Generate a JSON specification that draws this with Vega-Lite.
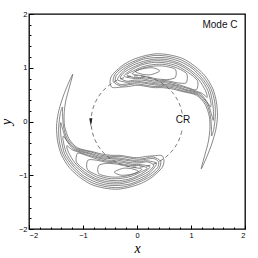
{
"$schema": "https://vega.github.io/schema/vega-lite/v6.json",
"width": 216, "height": 215,
"autosize": {"type": "none"},
"padding": {"left": 29, "top": 14, "right": 13, "bottom": 29},
"background": "white",
"config": {
 "view": {"stroke": "black", "strokeWidth": 1.3},
 "axis": {"domain": false, "grid": false, "labelFont": "Liberation Sans", "labelFontSize": 7.5, "labelColor": "black", "labelPadding": 6, "tickColor": "black", "tickWidth": 1, "titleFont": "Liberation Serif", "titleFontStyle": "italic", "titleFontWeight": "normal", "titleFontSize": 14, "titleColor": "black"}
},
"datasets": {
"contours": [
{"c":"A0","o":1,"x":-0.41,"y":0.92},{"c":"A0","o":2,"x":-0.26,"y":1.05},{"c":"A0","o":3,"x":-0.08,"y":1.15},{"c":"A0","o":4,"x":0.13,"y":1.22},{"c":"A0","o":5,"x":0.36,"y":1.26},{"c":"A0","o":6,"x":0.60,"y":1.24},{"c":"A0","o":7,"x":0.85,"y":1.17},{"c":"A0","o":8,"x":1.07,"y":1.03},{"c":"A0","o":9,"x":1.26,"y":0.85},{"c":"A0","o":10,"x":1.40,"y":0.62},{"c":"A0","o":11,"x":1.47,"y":0.37},{"c":"A0","o":12,"x":1.49,"y":0.10},{"c":"A0","o":13,"x":1.46,"y":-0.15},{"c":"A0","o":14,"x":1.39,"y":-0.40},{"c":"A0","o":15,"x":1.30,"y":-0.64},{"c":"A0","o":16,"x":1.19,"y":-0.88},{"c":"A0","o":17,"x":1.26,"y":-0.61},{"c":"A0","o":18,"x":1.32,"y":-0.38},{"c":"A0","o":19,"x":1.35,"y":-0.14},{"c":"A0","o":20,"x":1.34,"y":0.09},{"c":"A0","o":21,"x":1.26,"y":0.32},{"c":"A0","o":22,"x":1.10,"y":0.49},{"c":"A0","o":23,"x":0.83,"y":0.56},{"c":"A0","o":24,"x":0.63,"y":0.61},{"c":"A0","o":25,"x":0.46,"y":0.63},{"c":"A0","o":26,"x":0.31,"y":0.63},{"c":"A0","o":27,"x":0.19,"y":0.65},{"c":"A0","o":28,"x":0.07,"y":0.67},{"c":"A0","o":29,"x":-0.05,"y":0.67},{"c":"A0","o":30,"x":-0.16,"y":0.65},{"c":"A0","o":31,"x":-0.29,"y":0.64},{"c":"A0","o":32,"x":-0.40,"y":0.63},{"c":"A0","o":33,"x":-0.47,"y":0.64},{"c":"A0","o":34,"x":-0.50,"y":0.73},{"c":"A0","o":35,"x":-0.48,"y":0.83},
{"c":"A1","o":1,"x":-0.44,"y":0.74},{"c":"A1","o":2,"x":-0.40,"y":0.89},{"c":"A1","o":3,"x":-0.25,"y":1.02},{"c":"A1","o":4,"x":-0.08,"y":1.11},{"c":"A1","o":5,"x":0.13,"y":1.19},{"c":"A1","o":6,"x":0.35,"y":1.23},{"c":"A1","o":7,"x":0.59,"y":1.21},{"c":"A1","o":8,"x":0.83,"y":1.14},{"c":"A1","o":9,"x":1.04,"y":1.01},{"c":"A1","o":10,"x":1.23,"y":0.83},{"c":"A1","o":11,"x":1.37,"y":0.61},{"c":"A1","o":12,"x":1.44,"y":0.36},{"c":"A1","o":13,"x":1.45,"y":0.10},{"c":"A1","o":14,"x":1.42,"y":-0.15},{"c":"A1","o":15,"x":1.38,"y":-0.27},{"c":"A1","o":16,"x":1.38,"y":-0.15},{"c":"A1","o":17,"x":1.36,"y":0.10},{"c":"A1","o":18,"x":1.29,"y":0.32},{"c":"A1","o":19,"x":1.12,"y":0.50},{"c":"A1","o":20,"x":0.85,"y":0.57},{"c":"A1","o":21,"x":0.65,"y":0.63},{"c":"A1","o":22,"x":0.47,"y":0.65},{"c":"A1","o":23,"x":0.32,"y":0.65},{"c":"A1","o":24,"x":0.19,"y":0.67},{"c":"A1","o":25,"x":0.07,"y":0.69},{"c":"A1","o":26,"x":-0.05,"y":0.70},{"c":"A1","o":27,"x":-0.17,"y":0.68},{"c":"A1","o":28,"x":-0.30,"y":0.66},
{"c":"A2","o":1,"x":-0.40,"y":0.75},{"c":"A2","o":2,"x":-0.38,"y":0.86},{"c":"A2","o":3,"x":-0.25,"y":0.98},{"c":"A2","o":4,"x":-0.08,"y":1.08},{"c":"A2","o":5,"x":0.12,"y":1.16},{"c":"A2","o":6,"x":0.34,"y":1.19},{"c":"A2","o":7,"x":0.58,"y":1.18},{"c":"A2","o":8,"x":0.81,"y":1.11},{"c":"A2","o":9,"x":1.02,"y":0.99},{"c":"A2","o":10,"x":1.20,"y":0.81},{"c":"A2","o":11,"x":1.34,"y":0.60},{"c":"A2","o":12,"x":1.40,"y":0.35},{"c":"A2","o":13,"x":1.42,"y":0.10},{"c":"A2","o":14,"x":1.41,"y":0.02},{"c":"A2","o":15,"x":1.39,"y":0.10},{"c":"A2","o":16,"x":1.31,"y":0.33},{"c":"A2","o":17,"x":1.14,"y":0.51},{"c":"A2","o":18,"x":0.87,"y":0.59},{"c":"A2","o":19,"x":0.67,"y":0.65},{"c":"A2","o":20,"x":0.49,"y":0.67},{"c":"A2","o":21,"x":0.33,"y":0.68},{"c":"A2","o":22,"x":0.20,"y":0.70},{"c":"A2","o":23,"x":0.08,"y":0.72},{"c":"A2","o":24,"x":-0.05,"y":0.72},{"c":"A2","o":25,"x":-0.18,"y":0.70},{"c":"A2","o":26,"x":-0.31,"y":0.69},
{"c":"A3","o":1,"x":-0.36,"y":0.78},{"c":"A3","o":2,"x":-0.24,"y":0.95},{"c":"A3","o":3,"x":-0.07,"y":1.05},{"c":"A3","o":4,"x":0.12,"y":1.12},{"c":"A3","o":5,"x":0.33,"y":1.16},{"c":"A3","o":6,"x":0.56,"y":1.15},{"c":"A3","o":7,"x":0.79,"y":1.08},{"c":"A3","o":8,"x":0.99,"y":0.96},{"c":"A3","o":9,"x":1.18,"y":0.79},{"c":"A3","o":10,"x":1.31,"y":0.58},{"c":"A3","o":11,"x":1.37,"y":0.34},{"c":"A3","o":12,"x":1.36,"y":0.27},{"c":"A3","o":13,"x":1.32,"y":0.33},{"c":"A3","o":14,"x":1.17,"y":0.52},{"c":"A3","o":15,"x":0.89,"y":0.60},{"c":"A3","o":16,"x":0.69,"y":0.67},{"c":"A3","o":17,"x":0.50,"y":0.69},{"c":"A3","o":18,"x":0.34,"y":0.70},{"c":"A3","o":19,"x":0.21,"y":0.72},{"c":"A3","o":20,"x":0.08,"y":0.74},{"c":"A3","o":21,"x":-0.05,"y":0.75},{"c":"A3","o":22,"x":-0.18,"y":0.73},
{"c":"A4","o":1,"x":-0.31,"y":0.81},{"c":"A4","o":2,"x":-0.23,"y":0.92},{"c":"A4","o":3,"x":-0.07,"y":1.01},{"c":"A4","o":4,"x":0.12,"y":1.09},{"c":"A4","o":5,"x":0.32,"y":1.13},{"c":"A4","o":6,"x":0.55,"y":1.12},{"c":"A4","o":7,"x":0.77,"y":1.06},{"c":"A4","o":8,"x":0.97,"y":0.94},{"c":"A4","o":9,"x":1.15,"y":0.77},{"c":"A4","o":10,"x":1.27,"y":0.57},{"c":"A4","o":11,"x":1.30,"y":0.45},{"c":"A4","o":12,"x":1.19,"y":0.53},{"c":"A4","o":13,"x":0.92,"y":0.62},{"c":"A4","o":14,"x":0.71,"y":0.68},{"c":"A4","o":15,"x":0.52,"y":0.72},{"c":"A4","o":16,"x":0.35,"y":0.72},{"c":"A4","o":17,"x":0.22,"y":0.75},{"c":"A4","o":18,"x":0.08,"y":0.77},{"c":"A4","o":19,"x":-0.05,"y":0.77},{"c":"A4","o":20,"x":-0.19,"y":0.75},
{"c":"A5","o":1,"x":-0.24,"y":0.85},{"c":"A5","o":2,"x":-0.07,"y":0.98},{"c":"A5","o":3,"x":0.11,"y":1.06},{"c":"A5","o":4,"x":0.32,"y":1.10},{"c":"A5","o":5,"x":0.53,"y":1.09},{"c":"A5","o":6,"x":0.75,"y":1.03},{"c":"A5","o":7,"x":0.95,"y":0.91},{"c":"A5","o":8,"x":1.12,"y":0.76},{"c":"A5","o":9,"x":1.10,"y":0.59},{"c":"A5","o":10,"x":0.94,"y":0.63},{"c":"A5","o":11,"x":0.73,"y":0.70},{"c":"A5","o":12,"x":0.54,"y":0.74},{"c":"A5","o":13,"x":0.36,"y":0.75},{"c":"A5","o":14,"x":0.22,"y":0.77},{"c":"A5","o":15,"x":0.08,"y":0.80},{"c":"A5","o":16,"x":-0.06,"y":0.80},
{"c":"A6","o":1,"x":-0.19,"y":0.87},{"c":"A6","o":2,"x":-0.07,"y":0.94},{"c":"A6","o":3,"x":0.11,"y":1.02},{"c":"A6","o":4,"x":0.31,"y":1.06},{"c":"A6","o":5,"x":0.52,"y":1.06},{"c":"A6","o":6,"x":0.73,"y":1.00},{"c":"A6","o":7,"x":0.92,"y":0.89},{"c":"A6","o":8,"x":0.91,"y":0.72},{"c":"A6","o":9,"x":0.75,"y":0.72},{"c":"A6","o":10,"x":0.55,"y":0.76},{"c":"A6","o":11,"x":0.38,"y":0.77},{"c":"A6","o":12,"x":0.23,"y":0.80},{"c":"A6","o":13,"x":0.09,"y":0.82},{"c":"A6","o":14,"x":-0.06,"y":0.82},
{"c":"A7","o":1,"x":-0.09,"y":0.89},{"c":"A7","o":2,"x":0.10,"y":0.99},{"c":"A7","o":3,"x":0.30,"y":1.03},{"c":"A7","o":4,"x":0.50,"y":1.03},{"c":"A7","o":5,"x":0.71,"y":0.97},{"c":"A7","o":6,"x":0.71,"y":0.82},{"c":"A7","o":7,"x":0.57,"y":0.78},{"c":"A7","o":8,"x":0.39,"y":0.79},{"c":"A7","o":9,"x":0.24,"y":0.82},{"c":"A7","o":10,"x":0.09,"y":0.85},
{"c":"A8","o":1,"x":-0.03,"y":0.93},{"c":"A8","o":2,"x":0.10,"y":0.98},{"c":"A8","o":3,"x":0.29,"y":1.00},{"c":"A8","o":4,"x":0.42,"y":0.94},{"c":"A8","o":5,"x":0.25,"y":0.87},{"c":"A8","o":6,"x":0.09,"y":0.88},
{"c":"B0","o":1,"x":0.41,"y":-0.92},{"c":"B0","o":2,"x":0.26,"y":-1.05},{"c":"B0","o":3,"x":0.08,"y":-1.15},{"c":"B0","o":4,"x":-0.13,"y":-1.22},{"c":"B0","o":5,"x":-0.36,"y":-1.26},{"c":"B0","o":6,"x":-0.60,"y":-1.24},{"c":"B0","o":7,"x":-0.85,"y":-1.17},{"c":"B0","o":8,"x":-1.07,"y":-1.03},{"c":"B0","o":9,"x":-1.26,"y":-0.85},{"c":"B0","o":10,"x":-1.40,"y":-0.62},{"c":"B0","o":11,"x":-1.47,"y":-0.37},{"c":"B0","o":12,"x":-1.49,"y":-0.10},{"c":"B0","o":13,"x":-1.46,"y":0.15},{"c":"B0","o":14,"x":-1.39,"y":0.40},{"c":"B0","o":15,"x":-1.30,"y":0.64},{"c":"B0","o":16,"x":-1.19,"y":0.88},{"c":"B0","o":17,"x":-1.26,"y":0.61},{"c":"B0","o":18,"x":-1.32,"y":0.38},{"c":"B0","o":19,"x":-1.35,"y":0.14},{"c":"B0","o":20,"x":-1.34,"y":-0.09},{"c":"B0","o":21,"x":-1.26,"y":-0.32},{"c":"B0","o":22,"x":-1.10,"y":-0.49},{"c":"B0","o":23,"x":-0.83,"y":-0.56},{"c":"B0","o":24,"x":-0.63,"y":-0.61},{"c":"B0","o":25,"x":-0.46,"y":-0.63},{"c":"B0","o":26,"x":-0.31,"y":-0.63},{"c":"B0","o":27,"x":-0.19,"y":-0.65},{"c":"B0","o":28,"x":-0.07,"y":-0.67},{"c":"B0","o":29,"x":0.05,"y":-0.67},{"c":"B0","o":30,"x":0.16,"y":-0.65},{"c":"B0","o":31,"x":0.29,"y":-0.64},{"c":"B0","o":32,"x":0.40,"y":-0.63},{"c":"B0","o":33,"x":0.47,"y":-0.64},{"c":"B0","o":34,"x":0.50,"y":-0.73},{"c":"B0","o":35,"x":0.48,"y":-0.83},
{"c":"B1","o":1,"x":0.44,"y":-0.74},{"c":"B1","o":2,"x":0.40,"y":-0.89},{"c":"B1","o":3,"x":0.25,"y":-1.02},{"c":"B1","o":4,"x":0.08,"y":-1.11},{"c":"B1","o":5,"x":-0.13,"y":-1.19},{"c":"B1","o":6,"x":-0.35,"y":-1.23},{"c":"B1","o":7,"x":-0.59,"y":-1.21},{"c":"B1","o":8,"x":-0.83,"y":-1.14},{"c":"B1","o":9,"x":-1.04,"y":-1.01},{"c":"B1","o":10,"x":-1.23,"y":-0.83},{"c":"B1","o":11,"x":-1.37,"y":-0.61},{"c":"B1","o":12,"x":-1.44,"y":-0.36},{"c":"B1","o":13,"x":-1.45,"y":-0.10},{"c":"B1","o":14,"x":-1.42,"y":0.15},{"c":"B1","o":15,"x":-1.38,"y":0.27},{"c":"B1","o":16,"x":-1.38,"y":0.15},{"c":"B1","o":17,"x":-1.36,"y":-0.10},{"c":"B1","o":18,"x":-1.29,"y":-0.32},{"c":"B1","o":19,"x":-1.12,"y":-0.50},{"c":"B1","o":20,"x":-0.85,"y":-0.57},{"c":"B1","o":21,"x":-0.65,"y":-0.63},{"c":"B1","o":22,"x":-0.47,"y":-0.65},{"c":"B1","o":23,"x":-0.32,"y":-0.65},{"c":"B1","o":24,"x":-0.19,"y":-0.67},{"c":"B1","o":25,"x":-0.07,"y":-0.69},{"c":"B1","o":26,"x":0.05,"y":-0.70},{"c":"B1","o":27,"x":0.17,"y":-0.68},{"c":"B1","o":28,"x":0.30,"y":-0.66},
{"c":"B2","o":1,"x":0.40,"y":-0.75},{"c":"B2","o":2,"x":0.38,"y":-0.86},{"c":"B2","o":3,"x":0.25,"y":-0.98},{"c":"B2","o":4,"x":0.08,"y":-1.08},{"c":"B2","o":5,"x":-0.12,"y":-1.16},{"c":"B2","o":6,"x":-0.34,"y":-1.19},{"c":"B2","o":7,"x":-0.58,"y":-1.18},{"c":"B2","o":8,"x":-0.81,"y":-1.11},{"c":"B2","o":9,"x":-1.02,"y":-0.99},{"c":"B2","o":10,"x":-1.20,"y":-0.81},{"c":"B2","o":11,"x":-1.34,"y":-0.60},{"c":"B2","o":12,"x":-1.40,"y":-0.35},{"c":"B2","o":13,"x":-1.42,"y":-0.10},{"c":"B2","o":14,"x":-1.41,"y":-0.02},{"c":"B2","o":15,"x":-1.39,"y":-0.10},{"c":"B2","o":16,"x":-1.31,"y":-0.33},{"c":"B2","o":17,"x":-1.14,"y":-0.51},{"c":"B2","o":18,"x":-0.87,"y":-0.59},{"c":"B2","o":19,"x":-0.67,"y":-0.65},{"c":"B2","o":20,"x":-0.49,"y":-0.67},{"c":"B2","o":21,"x":-0.33,"y":-0.68},{"c":"B2","o":22,"x":-0.20,"y":-0.70},{"c":"B2","o":23,"x":-0.08,"y":-0.72},{"c":"B2","o":24,"x":0.05,"y":-0.72},{"c":"B2","o":25,"x":0.18,"y":-0.70},{"c":"B2","o":26,"x":0.31,"y":-0.69},
{"c":"B3","o":1,"x":0.36,"y":-0.78},{"c":"B3","o":2,"x":0.24,"y":-0.95},{"c":"B3","o":3,"x":0.07,"y":-1.05},{"c":"B3","o":4,"x":-0.12,"y":-1.12},{"c":"B3","o":5,"x":-0.33,"y":-1.16},{"c":"B3","o":6,"x":-0.56,"y":-1.15},{"c":"B3","o":7,"x":-0.79,"y":-1.08},{"c":"B3","o":8,"x":-0.99,"y":-0.96},{"c":"B3","o":9,"x":-1.18,"y":-0.79},{"c":"B3","o":10,"x":-1.31,"y":-0.58},{"c":"B3","o":11,"x":-1.37,"y":-0.34},{"c":"B3","o":12,"x":-1.36,"y":-0.27},{"c":"B3","o":13,"x":-1.32,"y":-0.33},{"c":"B3","o":14,"x":-1.17,"y":-0.52},{"c":"B3","o":15,"x":-0.89,"y":-0.60},{"c":"B3","o":16,"x":-0.69,"y":-0.67},{"c":"B3","o":17,"x":-0.50,"y":-0.69},{"c":"B3","o":18,"x":-0.34,"y":-0.70},{"c":"B3","o":19,"x":-0.21,"y":-0.72},{"c":"B3","o":20,"x":-0.08,"y":-0.74},{"c":"B3","o":21,"x":0.05,"y":-0.75},{"c":"B3","o":22,"x":0.18,"y":-0.73},
{"c":"B4","o":1,"x":0.31,"y":-0.81},{"c":"B4","o":2,"x":0.23,"y":-0.92},{"c":"B4","o":3,"x":0.07,"y":-1.01},{"c":"B4","o":4,"x":-0.12,"y":-1.09},{"c":"B4","o":5,"x":-0.32,"y":-1.13},{"c":"B4","o":6,"x":-0.55,"y":-1.12},{"c":"B4","o":7,"x":-0.77,"y":-1.06},{"c":"B4","o":8,"x":-0.97,"y":-0.94},{"c":"B4","o":9,"x":-1.15,"y":-0.77},{"c":"B4","o":10,"x":-1.27,"y":-0.57},{"c":"B4","o":11,"x":-1.30,"y":-0.45},{"c":"B4","o":12,"x":-1.19,"y":-0.53},{"c":"B4","o":13,"x":-0.92,"y":-0.62},{"c":"B4","o":14,"x":-0.71,"y":-0.68},{"c":"B4","o":15,"x":-0.52,"y":-0.72},{"c":"B4","o":16,"x":-0.35,"y":-0.72},{"c":"B4","o":17,"x":-0.22,"y":-0.75},{"c":"B4","o":18,"x":-0.08,"y":-0.77},{"c":"B4","o":19,"x":0.05,"y":-0.77},{"c":"B4","o":20,"x":0.19,"y":-0.75},
{"c":"B5","o":1,"x":0.24,"y":-0.85},{"c":"B5","o":2,"x":0.07,"y":-0.98},{"c":"B5","o":3,"x":-0.11,"y":-1.06},{"c":"B5","o":4,"x":-0.32,"y":-1.10},{"c":"B5","o":5,"x":-0.53,"y":-1.09},{"c":"B5","o":6,"x":-0.75,"y":-1.03},{"c":"B5","o":7,"x":-0.95,"y":-0.91},{"c":"B5","o":8,"x":-1.12,"y":-0.76},{"c":"B5","o":9,"x":-1.10,"y":-0.59},{"c":"B5","o":10,"x":-0.94,"y":-0.63},{"c":"B5","o":11,"x":-0.73,"y":-0.70},{"c":"B5","o":12,"x":-0.54,"y":-0.74},{"c":"B5","o":13,"x":-0.36,"y":-0.75},{"c":"B5","o":14,"x":-0.22,"y":-0.77},{"c":"B5","o":15,"x":-0.08,"y":-0.80},{"c":"B5","o":16,"x":0.06,"y":-0.80},
{"c":"B6","o":1,"x":0.19,"y":-0.87},{"c":"B6","o":2,"x":0.07,"y":-0.94},{"c":"B6","o":3,"x":-0.11,"y":-1.02},{"c":"B6","o":4,"x":-0.31,"y":-1.06},{"c":"B6","o":5,"x":-0.52,"y":-1.06},{"c":"B6","o":6,"x":-0.73,"y":-1.00},{"c":"B6","o":7,"x":-0.92,"y":-0.89},{"c":"B6","o":8,"x":-0.91,"y":-0.72},{"c":"B6","o":9,"x":-0.75,"y":-0.72},{"c":"B6","o":10,"x":-0.55,"y":-0.76},{"c":"B6","o":11,"x":-0.38,"y":-0.77},{"c":"B6","o":12,"x":-0.23,"y":-0.80},{"c":"B6","o":13,"x":-0.09,"y":-0.82},{"c":"B6","o":14,"x":0.06,"y":-0.82},
{"c":"B7","o":1,"x":0.09,"y":-0.89},{"c":"B7","o":2,"x":-0.10,"y":-0.99},{"c":"B7","o":3,"x":-0.30,"y":-1.03},{"c":"B7","o":4,"x":-0.50,"y":-1.03},{"c":"B7","o":5,"x":-0.71,"y":-0.97},{"c":"B7","o":6,"x":-0.71,"y":-0.82},{"c":"B7","o":7,"x":-0.57,"y":-0.78},{"c":"B7","o":8,"x":-0.39,"y":-0.79},{"c":"B7","o":9,"x":-0.24,"y":-0.82},{"c":"B7","o":10,"x":-0.09,"y":-0.85},
{"c":"B8","o":1,"x":0.03,"y":-0.93},{"c":"B8","o":2,"x":-0.10,"y":-0.98},{"c":"B8","o":3,"x":-0.29,"y":-1.00},{"c":"B8","o":4,"x":-0.42,"y":-0.94},{"c":"B8","o":5,"x":-0.25,"y":-0.87},{"c":"B8","o":6,"x":-0.09,"y":-0.88}
],
"circle": [
{"o":1,"x":0.837,"y":0.148},{"o":2,"x":0.799,"y":0.291},{"o":3,"x":0.736,"y":0.425},{"o":4,"x":0.651,"y":0.546},{"o":5,"x":0.546,"y":0.651},{"o":6,"x":0.425,"y":0.736},{"o":7,"x":0.291,"y":0.799},{"o":8,"x":0.148,"y":0.837},{"o":9,"x":0,"y":0.85},{"o":10,"x":-0.148,"y":0.837},{"o":11,"x":-0.291,"y":0.799},{"o":12,"x":-0.425,"y":0.736},{"o":13,"x":-0.546,"y":0.651},{"o":14,"x":-0.651,"y":0.546},{"o":15,"x":-0.736,"y":0.425},{"o":16,"x":-0.799,"y":0.291},{"o":17,"x":-0.837,"y":0.148},{"o":18,"x":-0.85,"y":0},{"o":19,"x":-0.837,"y":-0.148},{"o":20,"x":-0.799,"y":-0.291},{"o":21,"x":-0.736,"y":-0.425},{"o":22,"x":-0.651,"y":-0.546},{"o":23,"x":-0.546,"y":-0.651},{"o":24,"x":-0.425,"y":-0.736},{"o":25,"x":-0.291,"y":-0.799},{"o":26,"x":-0.148,"y":-0.837},{"o":27,"x":0,"y":-0.85},{"o":28,"x":0.148,"y":-0.837},{"o":29,"x":0.291,"y":-0.799},{"o":30,"x":0.425,"y":-0.736},{"o":31,"x":0.546,"y":-0.651},{"o":32,"x":0.651,"y":-0.546},{"o":33,"x":0.736,"y":-0.425},{"o":34,"x":0.799,"y":-0.291},{"o":35,"x":0.837,"y":-0.148}
]
},
"layer": [
{
 "data": {"name": "contours"},
 "mark": {"type": "line", "interpolate": "cardinal-closed", "tension": 0.2, "stroke": "#555", "strokeWidth": 0.7},
 "encoding": {
  "x": {"field": "x", "type": "quantitative", "scale": {"domain": [-2, 2], "nice": false, "zero": false}, "axis": {"orient": "bottom", "values": [-2, -1, 0, 1, 2], "tickSize": -4, "title": "x", "titlePadding": 3}},
  "y": {"field": "y", "type": "quantitative", "scale": {"domain": [-2, 2], "nice": false, "zero": false}, "axis": {"orient": "left", "values": [-2, -1, 0, 1, 2], "tickSize": -4, "title": "y", "titlePadding": 5}},
  "detail": {"field": "c"},
  "order": {"field": "o"}
 }
},
{
 "data": {"name": "circle"},
 "mark": {"type": "line", "interpolate": "cardinal", "stroke": "#555", "strokeWidth": 0.8, "strokeDash": [4, 3]},
 "encoding": {
  "x": {"field": "x", "type": "quantitative", "axis": {"orient": "bottom", "values": [-1.8, -1.6, -1.4, -1.2, -0.8, -0.6, -0.4, -0.2, 0.2, 0.4, 0.6, 0.8, 1.2, 1.4, 1.6, 1.8], "tickSize": -2, "labels": false, "title": null}},
  "y": {"field": "y", "type": "quantitative", "axis": {"orient": "left", "values": [-1.8, -1.6, -1.4, -1.2, -0.8, -0.6, -0.4, -0.2, 0.2, 0.4, 0.6, 0.8, 1.2, 1.4, 1.6, 1.8], "tickSize": -2, "labels": false, "title": null}},
  "order": {"field": "o"}
 }
},
{
 "data": {"values": [{"x": -0.855, "y": -0.015}]},
 "mark": {"type": "point", "shape": "M-0.4,-1L0.4,-1L0,1Z", "size": 64, "filled": true, "color": "#222", "opacity": 1},
 "encoding": {
  "x": {"field": "x", "type": "quantitative", "axis": null},
  "y": {"field": "y", "type": "quantitative", "axis": null}
 }
},
{
 "data": {"values": [{"x": 0.85, "y": 0.02, "t": "CR"}]},
 "mark": {"type": "text", "font": "Liberation Sans", "fontSize": 10, "align": "center", "baseline": "middle", "color": "#111"},
 "encoding": {
  "x": {"field": "x", "type": "quantitative", "axis": null},
  "y": {"field": "y", "type": "quantitative", "axis": null},
  "text": {"field": "t"}
 }
},
{
 "data": {"values": [{"x": 1.86, "y": 1.79, "t": "Mode C"}]},
 "mark": {"type": "text", "font": "Liberation Sans", "fontSize": 10, "align": "right", "baseline": "middle", "color": "#111"},
 "encoding": {
  "x": {"field": "x", "type": "quantitative", "axis": null},
  "y": {"field": "y", "type": "quantitative", "axis": null},
  "text": {"field": "t"}
 }
}
],
"resolve": {"axis": {"x": "independent", "y": "independent"}}
}
